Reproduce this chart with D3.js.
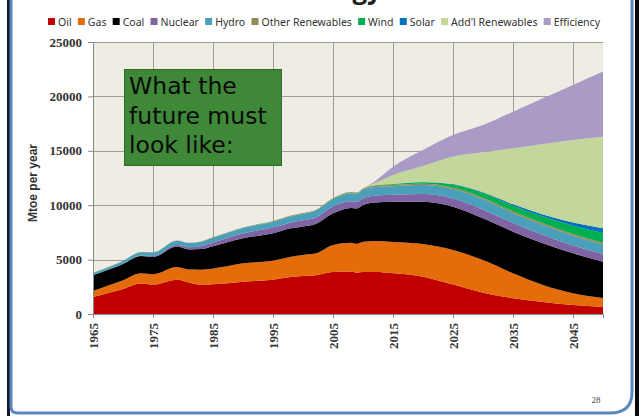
<!DOCTYPE html>
<html>
<head>
<meta charset="utf-8">
<script src="https://cdnjs.cloudflare.com/ajax/libs/d3/7.8.5/d3.min.js"></script>
<style>
  body { margin: 0; background: #ffffff; }
  svg { display: block; }
</style>
</head>
<body>
<div id="chart"></div>
<script>

// Values, Mtoe per year
var years = [1965, 1968, 1970, 1973, 1975, 1979, 1981, 1983, 1985, 1990, 1995, 1998, 2000, 2002,
  2005, 2008, 2009, 2010, 2012, 2015, 2020, 2025, 2030, 2035, 2040, 2045, 2050];

var oil = [1560, 2000, 2300, 2800, 2700, 3150, 2900, 2700, 2730, 2970, 3150, 3400, 3500, 3550,
  3850, 3900, 3800, 3850, 3850, 3740, 3430, 2700, 1950, 1450, 1100, 820, 640];
var gas = [550, 700, 800, 940, 950, 1160, 1180, 1370, 1450, 1690, 1770, 1870, 1930, 2000,
  2500, 2650, 2650, 2780, 2850, 2880, 3000, 3180, 3010, 2290, 1570, 1080, 830];
var coal = [1450, 1450, 1500, 1590, 1600, 1900, 1850, 1900, 2050, 2300, 2500, 2600, 2610, 2700,
  2900, 3200, 3250, 3380, 3550, 3700, 3890, 3980, 3830, 3830, 3830, 3680, 3340];
var nuclear = [10, 20, 20, 50, 90, 160, 200, 260, 340, 450, 520, 550, 580, 600,
  630, 620, 610, 620, 630, 650, 700, 750, 800, 800, 760, 720, 700];
var hydro = [200, 230, 260, 300, 320, 370, 390, 410, 440, 490, 540, 570, 600, 620,
  660, 720, 740, 780, 800, 780, 830, 870, 950, 920, 920, 900, 880];
var otherRenewables = [10, 10, 15, 20, 20, 25, 30, 35, 40, 50, 55, 60, 60, 65,
  75, 90, 95, 100, 110, 120, 130, 140, 150, 150, 150, 150, 150];
var wind = [0, 0, 0, 0, 0, 0, 0, 0, 0, 0, 2, 5, 8, 12,
  20, 25, 28, 30, 45, 70, 130, 280, 420, 520, 620, 750, 900];
var solar = [0, 0, 0, 0, 0, 0, 0, 0, 0, 0, 0, 0, 0, 0,
  0, 1, 2, 3, 5, 10, 20, 40, 70, 120, 200, 320, 450];
var addlRenewables = [0, 0, 0, 0, 0, 0, 0, 0, 0, 0, 0, 0, 0, 0,
  0, 0, 0, 0, 200, 830, 1470, 2530, 3680, 5150, 6480, 7580, 8410];
var efficiency = [0, 0, 0, 0, 0, 0, 0, 0, 0, 0, 0, 0, 0, 0,
  0, 0, 0, 0, 170, 760, 1470, 1980, 2510, 3370, 4200, 5050, 5980];

var seriesNames = ["Oil", "Gas", "Coal", "Nuclear", "Hydro", "Other Renewables", "Wind", "Solar",
  "Add'l Renewables", "Efficiency"];
var seriesValues = [oil, gas, coal, nuclear, hydro, otherRenewables, wind, solar, addlRenewables, efficiency];
var seriesColors = ["#c00000", "#e46c0a", "#000000", "#7f63a3", "#4a9fbb", "#948a54", "#00b050",
  "#0070c0", "#c3d69b", "#a99bc6"];

var yTicks = [0, 5000, 10000, 15000, 20000, 25000];
var xTicks = [1965, 1975, 1985, 1995, 2005, 2015, 2025, 2035, 2045];

// SVG area and chart margins
var svgWidth = 639;
var svgHeight = 416;

var chartMargin = {
  top: 42,
  right: 36,
  bottom: 102,
  left: 93
};

var chartWidth = svgWidth - chartMargin.left - chartMargin.right;
var chartHeight = svgHeight - chartMargin.top - chartMargin.bottom;

var svg = d3.select("#chart")
  .append("svg")
  .attr("width", svgWidth)
  .attr("height", svgHeight);

// slide title, cut off at the top edge (only the descenders show)
svg.append("text")
  .attr("x", 323)
  .attr("y", -1)
  .attr("text-anchor", "middle")
  .style("font-family", "'Open Sans', sans-serif")
  .style("font-weight", "bold")
  .style("font-size", "26px")
  .style("fill", "#222")
  .text("World Energy Use");

var chartGroup = svg.append("g")
  .attr("transform", `translate(${chartMargin.left}, ${chartMargin.top})`);

// build rows for the stack
var rows = years.map(function(yr, i) {
  var row = { year: yr };
  seriesNames.forEach(function(name, j) {
    row[name] = seriesValues[j][i];
  });
  return row;
});

var xScale = d3.scaleLinear()
  .domain([1965, 2050])
  .range([0, chartWidth]);

var yScale = d3.scaleLinear()
  .domain([0, 25000])
  .range([chartHeight, 0]);

// plot background
chartGroup.append("rect")
  .attr("width", chartWidth)
  .attr("height", chartHeight)
  .attr("fill", "#eeece3");

// gridlines
chartGroup.selectAll(".hgrid")
  .data(yTicks.filter(d => d > 0))
  .enter()
  .append("line")
  .attr("x1", 0)
  .attr("x2", chartWidth)
  .attr("y1", d => Math.round(yScale(d)) + 0.5)
  .attr("y2", d => Math.round(yScale(d)) + 0.5)
  .attr("stroke", "#9c9c98")
  .attr("stroke-width", 1);

chartGroup.selectAll(".vgrid")
  .data(xTicks.filter(d => d > 1965))
  .enter()
  .append("line")
  .attr("x1", d => Math.round(xScale(d)) + 0.5)
  .attr("x2", d => Math.round(xScale(d)) + 0.5)
  .attr("y1", 0)
  .attr("y2", chartHeight)
  .attr("stroke", "#9c9c98")
  .attr("stroke-width", 1);

// stacked areas
var stack = d3.stack().keys(seriesNames);
var layers = stack(rows);

var area = d3.area()
  .curve(d3.curveMonotoneX)
  .x(d => xScale(d.data.year))
  .y0(d => yScale(d[0]))
  .y1(d => yScale(d[1]));

chartGroup.selectAll(".layer")
  .data(layers)
  .enter()
  .append("path")
  .attr("class", "layer")
  .attr("d", area)
  .attr("fill", (d, i) => seriesColors[i]);

// axes
var leftAxis = d3.axisLeft(yScale)
  .tickValues(yTicks)
  .tickFormat(d3.format("d"))
  .tickSize(5)
  .tickPadding(6);

var bottomAxis = d3.axisBottom(xScale)
  .tickValues(xTicks)
  .tickFormat(d3.format("d"))
  .tickSize(4);

var yAxis = chartGroup.append("g")
  .call(leftAxis);

var xAxis = chartGroup.append("g")
  .attr("transform", `translate(0, ${chartHeight})`)
  .call(bottomAxis);

[yAxis, xAxis].forEach(function(ax) {
  ax.select(".domain").attr("stroke", "#8a8a8a");
  ax.selectAll(".tick line").attr("stroke", "#8a8a8a");
  ax.selectAll("text")
    .style("font-family", "'Liberation Serif', serif")
    .style("font-weight", "bold")
    .style("font-size", "13px")
    .style("fill", "#333");
});

xAxis.selectAll("text")
  .attr("transform", "rotate(-90)")
  .attr("text-anchor", "end")
  .attr("x", -9)
  .attr("y", 0)
  .attr("dy", "0.35em");

// y axis title
chartGroup.append("text")
  .attr("transform", "rotate(-90)")
  .attr("x", 0 - 141)
  .attr("y", 33 - chartMargin.left)
  .attr("dy", "0.35em")
  .attr("text-anchor", "middle")
  .style("font-family", "'Liberation Sans', sans-serif")
  .style("font-weight", "bold")
  .style("font-size", "12px")
  .style("fill", "#333")
  .text("Mtoe per year");

// legend along the top, spread from x=48 to x=600
var legendGroup = svg.append("g")
  .attr("transform", "translate(0, 22)");

var legendItems = legendGroup.selectAll(".legend-item")
  .data(seriesNames)
  .enter()
  .append("g")
  .attr("class", "legend-item");

legendItems.append("rect")
  .attr("y", -4)
  .attr("width", 7)
  .attr("height", 7)
  .attr("fill", (d, i) => seriesColors[i]);

legendItems.append("text")
  .attr("x", 10)
  .attr("y", 0)
  .attr("dy", "0.35em")
  .style("font-family", "'Noto Sans', sans-serif")
  .style("font-size", "10.5px")
  .style("fill", "#333")
  .text(d => d);

var widths = [];
legendItems.selectAll("text").each(function() {
  widths.push(this.getComputedTextLength() + 10);
});
var legendStart = 48;
var legendEnd = 600;
var gap = (legendEnd - legendStart - d3.sum(widths)) / (widths.length - 1);
var pos = legendStart;
legendItems.each(function(d, i) {
  d3.select(this).attr("transform", `translate(${pos}, 0)`);
  pos += widths[i] + gap;
});

// green callout box
var callout = svg.append("g");

callout.append("rect")
  .attr("x", 124.5)
  .attr("y", 69.5)
  .attr("width", 157)
  .attr("height", 96)
  .attr("fill", "#3e8838")
  .attr("stroke", "#2f6b2b")
  .attr("stroke-width", 1);

callout.append("text")
  .style("font-family", "'DejaVu Sans', sans-serif")
  .style("font-size", "23.5px")
  .style("fill", "#0a0a0a")
  .selectAll("tspan")
  .data(["What the", "future must", "look like:"])
  .enter()
  .append("tspan")
  .attr("x", 129)
  .attr("y", (d, i) => 94 + i * 29.5)
  .text(d => d);

// slide frame
svg.append("rect")
  .attr("x", 7)
  .attr("y", 0)
  .attr("width", 3)
  .attr("height", svgHeight)
  .attr("fill", "#111a28");

svg.append("rect")
  .attr("x", 635)
  .attr("y", 0)
  .attr("width", 4)
  .attr("height", svgHeight)
  .attr("fill", "#0a0a0a");

svg.append("path")
  .attr("d", "M 11 -5 V 407 Q 11 413 18 413 H 610 Q 632 413 632 392 V -5")
  .attr("fill", "none")
  .attr("stroke", "#5b86c0")
  .attr("stroke-width", 3);

// page number
svg.append("text")
  .attr("x", 596)
  .attr("y", 403)
  .attr("text-anchor", "middle")
  .style("font-family", "'Liberation Serif', serif")
  .style("font-size", "9px")
  .style("fill", "#444")
  .text("28");

</script>
</body>
</html>
